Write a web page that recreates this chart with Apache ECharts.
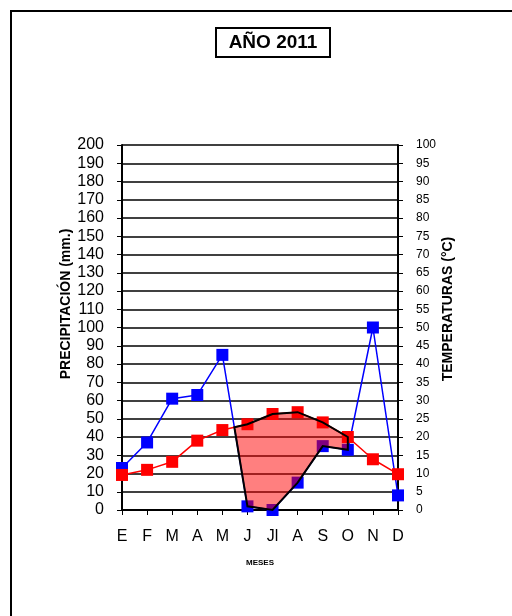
<!DOCTYPE html>
<html>
<head>
<meta charset="utf-8">
<script src="https://cdn.jsdelivr.net/npm/echarts@6/dist/echarts.min.js"></script>
<style>
  html, body { margin: 0; padding: 0; background: #fff; }
  #main { width: 512px; height: 616px; }
</style>
</head>
<body>
<div id="main"></div>
<script>
// datos del climograma
var meses = ['E', 'F', 'M', 'A', 'M', 'J', 'Jl', 'A', 'S', 'O', 'N', 'D'];
var precipitacion = [23, 37, 61, 63, 85, 2, 0, 15, 35, 33, 100, 8];
var temperatura = [9.6, 11, 13.2, 19, 21.9, 23.5, 26.3, 26.8, 24, 20, 13.9, 9.8];

var myChart = echarts.init(document.getElementById('main'));

// periodo seco: donde 2*T > P
function periodoSeco(params, api) {
  var n = meses.length;
  var seco = [];
  for (var i = 0; i < n; i++) seco.push(temperatura[i] * 2 > precipitacion[i]);
  var s = seco.indexOf(true);
  if (s < 0) return null;
  var e = s;
  while (e + 1 < n && seco[e + 1]) e++;
  var arriba = [], abajo = [];
  if (s > 0) {
    var d0 = precipitacion[s - 1] - temperatura[s - 1] * 2;
    var d1 = precipitacion[s] - temperatura[s] * 2;
    var t = d0 / (d0 - d1);
    var a = api.coord([s - 1, temperatura[s - 1] * 2]);
    var b = api.coord([s, temperatura[s] * 2]);
    arriba.push([a[0] + t * (b[0] - a[0]), a[1] + t * (b[1] - a[1])]);
  }
  for (var j = s; j <= e; j++) {
    arriba.push(api.coord([j, temperatura[j] * 2]));
    abajo.unshift(api.coord([j, precipitacion[j]]));
  }
  return {
    type: 'polygon',
    shape: { points: arriba.concat(abajo) },
    style: { fill: 'rgba(255,0,0,0.5)', stroke: '#000', lineWidth: 2 }
  };
}

myChart.setOption({
  animation: false,
  grid: { left: 122, right: 114, top: 145, bottom: 106 },
  graphic: [
    { type: 'rect', shape: { x: 11, y: 11, width: 700, height: 800 },
      style: { fill: 'none', stroke: '#000', lineWidth: 2 } },
    { type: 'rect', shape: { x: 216, y: 28, width: 114, height: 29 },
      style: { fill: '#fff', stroke: '#000', lineWidth: 2 } },
    { type: 'text', x: 273, y: 43,
      style: { text: 'AÑO 2011', fontFamily: 'Liberation Sans', fontWeight: 'bold', fontSize: 19,
        fill: '#000', align: 'center', verticalAlign: 'middle' } },
    { type: 'text', x: 66, y: 304, rotation: Math.PI / 2,
      style: { text: 'PRECIPITACIÓN (mm.)', fontFamily: 'Liberation Sans', fontWeight: 'bold', fontSize: 14,
        fill: '#000', align: 'center', verticalAlign: 'middle' } },
    { type: 'text', x: 448, y: 309, rotation: Math.PI / 2,
      style: { text: 'TEMPERATURAS (°C)', fontFamily: 'Liberation Sans', fontWeight: 'bold', fontSize: 14,
        fill: '#000', align: 'center', verticalAlign: 'middle' } }
  ],
  xAxis: {
    type: 'category',
    data: meses,
    boundaryGap: false,
    name: 'MESES',
    nameLocation: 'middle',
    nameGap: 49,
    nameTextStyle: { fontFamily: 'Liberation Sans', fontWeight: 'bold', fontSize: 8, color: '#000' },
    axisLine: { lineStyle: { color: '#000', width: 2 } },
    axisTick: { alignWithLabel: true, length: 5, lineStyle: { color: '#000', width: 1 } },
    axisLabel: { fontFamily: 'Liberation Sans', fontSize: 16, color: '#000', margin: 19 },
    splitLine: { show: false }
  },
  yAxis: [
    {
      type: 'value', min: 0, max: 200, interval: 10,
      axisLine: { show: true, lineStyle: { color: '#000', width: 2 } },
      axisTick: { show: true, length: 5, lineStyle: { color: '#000' } },
      axisLabel: { fontFamily: 'Liberation Sans', fontSize: 16, color: '#000', margin: 18 },
      splitLine: { show: true, lineStyle: { color: '#000', width: 1.5 } }
    },
    {
      type: 'value', min: 0, max: 100, interval: 5, position: 'right',
      axisLine: { show: true, lineStyle: { color: '#000', width: 2 } },
      axisTick: { show: true, length: 5, lineStyle: { color: '#000' } },
      axisLabel: { fontFamily: 'Liberation Sans', fontSize: 12, color: '#000', margin: 18 },
      splitLine: { show: false }
    }
  ],
  series: [
    {
      name: 'Precipitación', type: 'line', data: precipitacion, yAxisIndex: 0,
      symbol: 'rect', symbolSize: 12, z: 2,
      lineStyle: { color: '#0000ff', width: 1.5 },
      itemStyle: { color: '#0000ff' }
    },
    {
      name: 'Temperatura', type: 'line', data: temperatura, yAxisIndex: 1,
      symbol: 'rect', symbolSize: 12, z: 2,
      lineStyle: { color: '#ff0000', width: 1.5 },
      itemStyle: { color: '#ff0000' }
    },
    {
      name: 'Seco', type: 'custom', data: [0], z: 3,
      renderItem: periodoSeco
    }
  ]
});
</script>
</body>
</html>
